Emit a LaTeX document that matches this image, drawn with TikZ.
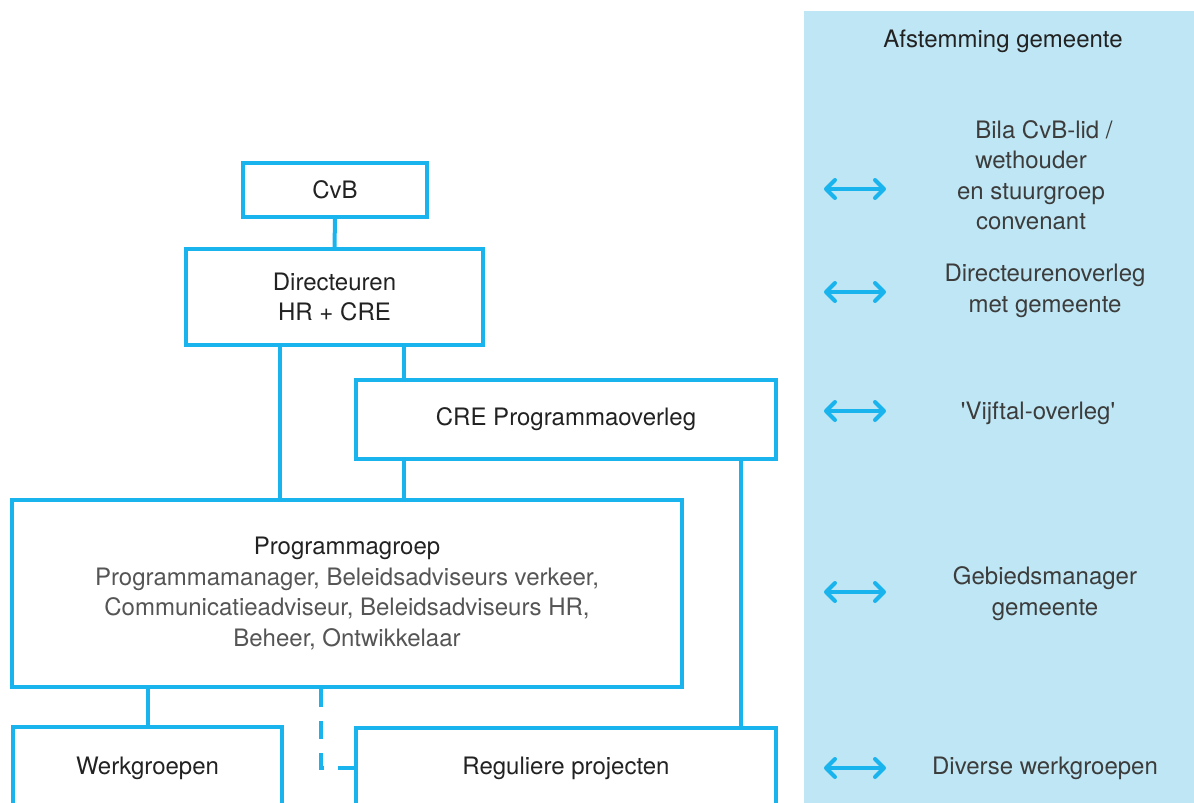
\documentclass[tikz,border=0pt]{standalone}
\usepackage{fontspec}
\setmainfont{TeX Gyre Heros}
\usetikzlibrary{arrows.meta,calc}
\definecolor{lineblue}{HTML}{19B4EE}
\definecolor{panelblue}{HTML}{BEE6F4}
\definecolor{txtdark}{HTML}{222222}
\definecolor{txtgrey}{HTML}{555555}
\definecolor{paneltxt}{HTML}{3C3C3C}
\begin{document}
\begin{tikzpicture}[x=1pt,y=-1pt,
  orgbox/.style={draw=lineblue,line width=4pt,fill=white,inner sep=0pt,align=center,
    text=txtdark,font=\fontsize{24}{30.5}\selectfont},
  conn/.style={draw=lineblue,line width=4pt},
  ptext/.style={align=center,text=paneltxt,inner sep=0pt,font=\fontsize{24}{30.5}\selectfont},
  biarrow/.style={draw=lineblue,line width=4pt,line cap=round,
    {Straight Barb[length=9pt,width=18pt,line cap=round,line join=round]}-{Straight Barb[length=9pt,width=18pt,line cap=round,line join=round]}}]
\useasboundingbox (0,0) rectangle (1194,803);
\clip (0,0) rectangle (1194,803);
% panel
\fill[panelblue] (804,11) rectangle (1194,810);
\node[ptext,text=txtdark] (head) at (1003,41) {Afstemming gemeente};
\node[ptext] (t1) at (1031,175) {\hspace*{26pt}Bila CvB-lid /\\wethouder\\en stuurgroep\\convenant};
\node[ptext] (t2) at (1045,291) {Directeurenoverleg\\met gemeente};
\node[ptext] (t3) at (1038,413) {\textquotesingle Vijftal-overleg\textquotesingle};
\node[ptext] (t4) at (1045,593.5) {Gebiedsmanager\\gemeente};
\node[ptext] (t5) at (1045,768) {Diverse werkgroepen};
\foreach \i/\y in {1/189,2/292,3/411,4/592,5/768}{
  \coordinate (al\i) at (824,\y);
  \coordinate (ar\i) at (886,\y);
  \draw[biarrow] (al\i) -- (ar\i);
}
% boxes
\node[orgbox,minimum width=184pt,minimum height=54pt] (cvb) at (335,189.5) {CvB};
\node[orgbox,minimum width=297pt,minimum height=96pt] (dir) at (334.5,297) {Directeuren\\HR + CRE};
\node[orgbox,minimum width=420pt,minimum height=79pt] (cre) at (566,419.5) {CRE Programmaoverleg};
\node[orgbox,minimum width=670pt,minimum height=187pt] (prog) at (347,593.5)
  {Programmagroep\\\textcolor{txtgrey}{Programmamanager, Beleidsadviseurs verkeer,}\\
   \textcolor{txtgrey}{Communicatieadviseur, Beleidsadviseurs HR,}\\
   \textcolor{txtgrey}{Beheer, Ontwikkelaar}};
\node[orgbox,minimum width=269pt,minimum height=82pt] (werk) at (147.5,768) {Werkgroepen};
\node[orgbox,minimum width=420pt,minimum height=80pt] (reg) at (566,768) {Reguliere projecten};
% connectors
\draw[conn] (cvb.south) -- (dir.north);
\coordinate (c0) at ([xshift=-54.5pt]dir.south);
\draw[conn] (c0) -- (c0 |- prog.north);
\coordinate (c1) at ([xshift=50pt]cre.north west);
\draw[conn] (c1) -- (c1 |- dir.south);
\coordinate (c2) at ([xshift=50pt]cre.south west);
\draw[conn] (c2) -- (c2 |- prog.north);
\coordinate (c3) at ([xshift=-37pt]cre.south east);
\draw[conn] (c3) -- (c3 |- reg.north);
\draw[conn] (werk.north) -- (werk.north |- prog.south);
\coordinate (c4) at ([xshift=-33pt]reg.west);
\draw[conn,dash pattern=on 18pt off 14pt] (c4 |- prog.south) -- (c4) -- (reg.west);
\end{tikzpicture}
\end{document}
